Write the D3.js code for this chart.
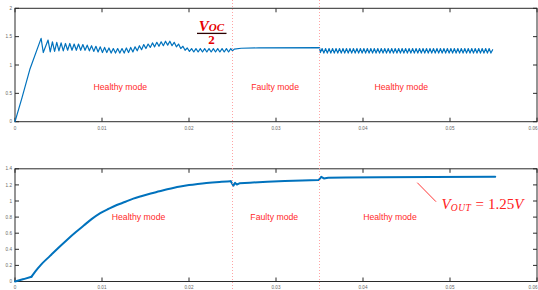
<!DOCTYPE html>
<html><head><meta charset="utf-8">
<script src="https://cdn.jsdelivr.net/npm/d3@7"></script>
<style>
html,body{margin:0;padding:0;background:#fff;overflow:hidden}
svg{display:block}
</style></head>
<body>
<script>
// ---------- data ----------
const xTicks = [0, 0.01, 0.02, 0.03, 0.04, 0.05, 0.06];
const xTickLabels = ["0", "0.01", "0.02", "0.03", "0.04", "0.05", "0.06"];
const topYTicks = [0, 0.5, 1, 1.5, 2];
const topYTickLabels = ["0", "0.5", "1", "1.5", "2"];
const botYTicks = [0, 0.2, 0.4, 0.6, 0.8, 1, 1.2, 1.4];
const botYTickLabels = ["0", "0.2", "0.4", "0.6", "0.8", "1", "1.2", "1.4"];
const faultTimes = [0.025, 0.035];
const modeLabels = ["Healthy mode", "Faulty mode", "Healthy mode"];
const topModeLabelT = [0.0121, 0.0299, 0.0444];
const botModeLabelT = [0.0142, 0.0298, 0.0431];

// capacitor voltage (top)
const topSeries = [
[0,0],[0.0008,0.42],[0.0017,0.92],[0.0030,1.47],[0.00325,1.22],
[0.0038,1.44],[0.00405,1.23],[0.0043,1.41],[0.00455,1.24],[0.0048,1.40],[0.00505,1.25],
[0.0053,1.39],[0.00555,1.25],[0.0058,1.38],[0.00605,1.26],[0.0063,1.38],[0.00655,1.26],
[0.0068,1.37],[0.00705,1.26],[0.0073,1.37],[0.00755,1.26],[0.0078,1.36],[0.00805,1.26],
[0.0083,1.35],[0.00855,1.25],[0.0088,1.34],[0.00905,1.24],[0.0093,1.33],[0.00955,1.23],
[0.0098,1.32],[0.01005,1.22],[0.0103,1.31],[0.01055,1.22],[0.0108,1.30],[0.01105,1.21],
[0.0113,1.29],[0.01155,1.21],[0.0118,1.29],[0.01205,1.21],[0.0123,1.29],[0.01255,1.21],
[0.0128,1.30],[0.01305,1.22],[0.0133,1.31],[0.01355,1.23],[0.0138,1.32],[0.01405,1.25],
[0.0143,1.34],[0.01455,1.27],[0.0148,1.36],[0.01505,1.29],[0.0153,1.37],[0.01555,1.31],
[0.0158,1.39],[0.01605,1.32],[0.0163,1.40],[0.01655,1.33],[0.0168,1.41],[0.01705,1.34],
[0.0173,1.42],[0.01755,1.35],[0.0178,1.42],[0.01805,1.34],[0.0183,1.40],[0.01855,1.32],
[0.0188,1.37],[0.01905,1.29],[0.0193,1.33],[0.01955,1.26],[0.0198,1.30],[0.02005,1.24],
[0.0203,1.29],[0.02055,1.23],[0.0208,1.29],[0.02105,1.23],[0.0213,1.29],[0.02155,1.23],
[0.0218,1.29],[0.02205,1.23],[0.0223,1.29],[0.02255,1.23],[0.0228,1.29],[0.02305,1.23],
[0.0233,1.29],[0.02355,1.23],[0.0238,1.29],[0.02405,1.23],[0.0243,1.29],[0.02455,1.23],
[0.0248,1.29],[0.0250,1.25],
[0.0252,1.28],[0.0260,1.295],[0.0280,1.302],[0.0350,1.305],[0.0351,1.22],
[0.0353,1.29],[0.0355,1.21],[0.0357,1.29],[0.0359,1.21],[0.0361,1.29],[0.0363,1.21],
[0.0365,1.29],[0.0367,1.21],[0.0369,1.29],[0.0371,1.21],[0.0373,1.29],[0.0375,1.21],
[0.0377,1.29],[0.0379,1.21],[0.0381,1.29],[0.0383,1.21],[0.0385,1.29],[0.0387,1.21],
[0.0389,1.29],[0.0391,1.21],[0.0393,1.29],[0.0395,1.21],[0.0397,1.29],[0.0399,1.21],
[0.0401,1.29],[0.0403,1.21],[0.0405,1.29],[0.0407,1.21],[0.0409,1.29],[0.0411,1.21],
[0.0413,1.29],[0.0415,1.21],[0.0417,1.29],[0.0419,1.21],[0.0421,1.29],[0.0423,1.21],
[0.0425,1.29],[0.0427,1.21],[0.0429,1.29],[0.0431,1.21],[0.0433,1.29],[0.0435,1.21],
[0.0437,1.29],[0.0439,1.21],[0.0441,1.29],[0.0443,1.21],[0.0445,1.29],[0.0447,1.21],
[0.0449,1.29],[0.0451,1.21],[0.0453,1.29],[0.0455,1.21],[0.0457,1.29],[0.0459,1.21],
[0.0461,1.29],[0.0463,1.21],[0.0465,1.29],[0.0467,1.21],[0.0469,1.29],[0.0471,1.21],
[0.0473,1.29],[0.0475,1.21],[0.0477,1.29],[0.0479,1.21],[0.0481,1.29],[0.0483,1.21],
[0.0485,1.29],[0.0487,1.21],[0.0489,1.29],[0.0491,1.21],[0.0493,1.29],[0.0495,1.21],
[0.0497,1.29],[0.0499,1.21],[0.0501,1.29],[0.0503,1.21],[0.0505,1.29],[0.0507,1.21],
[0.0509,1.29],[0.0511,1.21],[0.0513,1.29],[0.0515,1.21],[0.0517,1.29],[0.0519,1.21],
[0.0521,1.29],[0.0523,1.21],[0.0525,1.29],[0.0527,1.21],[0.0529,1.29],[0.0531,1.21],
[0.0533,1.29],[0.0535,1.21],[0.0537,1.29],[0.0539,1.21],[0.0541,1.29],[0.0543,1.21],
[0.0545,1.29],[0.0547,1.21],[0.0549,1.27]
];

// output voltage (bottom) - start, smooth rise, fault transient and tail
const botSeriesA = [
[0,0],[0.0010,0.03],[0.0019,0.06]
];
const botSeriesB = [
[0.0019,0.06],[0.0023,0.12],[0.0030,0.21],[0.0040,0.315],
[0.0050,0.42],[0.0060,0.52],[0.0070,0.615],[0.0079,0.695],[0.0088,0.775],[0.0098,0.85],
[0.0108,0.905],[0.0117,0.95],[0.0127,0.99],[0.0136,1.03],[0.0146,1.063],[0.0156,1.093],
[0.0166,1.12],[0.0175,1.145],[0.0183,1.165],[0.0190,1.18],[0.0200,1.198],[0.0210,1.212],
[0.0220,1.224],[0.0235,1.237],[0.0248,1.245]
];
const botSeriesC = [
[0.0248,1.245],[0.0251,1.19],[0.0253,1.225],[0.0255,1.205],
[0.0258,1.22],[0.0270,1.228],[0.0290,1.238],[0.0310,1.248],[0.0330,1.255],[0.0349,1.26],
[0.0352,1.30],[0.0355,1.28],[0.0360,1.29],[0.0380,1.293],[0.0420,1.296],[0.0480,1.298],
[0.0552,1.30]
];

// ---------- layout ----------
const W = 538, H = 290;
const svg = d3.select("body").append("svg").attr("width", W).attr("height", H);
const x = d3.scaleLinear().domain([0, 0.06]).range([15, 537]);
const yTop = d3.scaleLinear().domain([0, 2]).range([121.7, 8.3]);
const yBot = d3.scaleLinear().domain([0, 1.4]).range([281.5, 168.8]);

const axisColor = "#2b2b2b";
const labelColor = "#666";
const redText = "#ff2a2a";
const blue = "#0072BD";

function drawPanel(y, yTicks, yLabels, seriesList, lineWidth, labelTs, labelY, labelBase) {
  const g = svg.append("g");
  const [y0, y1] = y.range();
  const x0 = x.range()[0], x1 = x.range()[1];
  g.append("rect").attr("x", x0).attr("y", y1).attr("width", x1 - x0).attr("height", y0 - y1)
    .attr("fill", "none").attr("stroke", axisColor).attr("stroke-width", 1);
  const tl = 4;
  g.selectAll(".xt").data(xTicks).enter().append("line")
    .attr("x1", d => x(d)).attr("x2", d => x(d)).attr("y1", y0).attr("y2", y0 - tl)
    .attr("stroke", axisColor);
  g.selectAll(".xtt").data(xTicks).enter().append("line")
    .attr("x1", d => x(d)).attr("x2", d => x(d)).attr("y1", y1).attr("y2", y1 + tl)
    .attr("stroke", axisColor);
  g.selectAll(".xl").data(xTicks).enter().append("text")
    .attr("x", (d, i) => i === xTicks.length - 1 ? W - 0.5 : x(d)).attr("y", labelBase)
    .attr("text-anchor", (d, i) => i === xTicks.length - 1 ? "end" : "middle")
    .attr("font-family", "Liberation Sans, Arial, sans-serif").attr("font-size", 4.6)
    .attr("fill", labelColor).text((d, i) => xTickLabels[i]);
  g.selectAll(".yt").data(yTicks).enter().append("line")
    .attr("x1", x0).attr("x2", x0 + tl).attr("y1", d => y(d)).attr("y2", d => y(d))
    .attr("stroke", axisColor);
  g.selectAll(".ytr").data(yTicks).enter().append("line")
    .attr("x1", x1).attr("x2", x1 - tl).attr("y1", d => y(d)).attr("y2", d => y(d))
    .attr("stroke", axisColor);
  g.selectAll(".yl").data(yTicks).enter().append("text")
    .attr("x", x0 - 3).attr("y", d => y(d) + 1.6).attr("text-anchor", "end")
    .attr("font-family", "Liberation Sans, Arial, sans-serif").attr("font-size", 4.6)
    .attr("fill", labelColor).text((d, i) => yLabels[i]);
  seriesList.forEach(s => {
    const line = d3.line().x(d => x(d[0])).y(d => y(d[1])).curve(s.curve);
    g.append("path").datum(s.data).attr("d", line).attr("fill", "none")
      .attr("stroke", blue).attr("stroke-width", lineWidth)
      .attr("stroke-linejoin", "round").attr("stroke-linecap", "round");
  });
  g.selectAll(".ml").data(labelTs).enter().append("text")
    .attr("x", d => x(d)).attr("y", labelY).attr("text-anchor", "middle")
    .attr("font-family", "Liberation Sans, Arial, sans-serif").attr("font-size", 8.7)
    .attr("fill", redText).text((d, i) => modeLabels[i]);
  return g;
}

drawPanel(yTop, topYTicks, topYTickLabels,
  [{data: topSeries, curve: d3.curveLinear}], 1.2, topModeLabelT, 90.3, 129.5);
drawPanel(yBot, botYTicks, botYTickLabels,
  [{data: botSeriesA, curve: d3.curveLinear},
   {data: botSeriesB, curve: d3.curveMonotoneX},
   {data: botSeriesC, curve: d3.curveLinear}], 2, botModeLabelT, 219.5, 289.3);

// fault boundaries (dotted, full height)
svg.selectAll(".fl").data(faultTimes).enter().append("line")
  .attr("x1", d => x(d)).attr("x2", d => x(d)).attr("y1", 0).attr("y2", H)
  .attr("stroke", "#ff9a9a").attr("stroke-width", 0.9).attr("stroke-dasharray", "1,2");

// V_OC / 2 annotation
const serif = "Liberation Serif, Times New Roman, serif";
const frac = svg.append("g");
const fx = 211.5;
const num = frac.append("text").attr("x", fx).attr("y", 30.5).attr("text-anchor", "middle")
  .attr("font-family", serif).attr("font-style", "italic").attr("font-weight", "bold")
  .attr("fill", "#e60000");
num.append("tspan").attr("font-size", 15).text("V");
num.append("tspan").attr("font-size", 11).attr("dy", 0.5).text("OC");
frac.append("line").attr("x1", 197).attr("x2", 226.5).attr("y1", 33.4).attr("y2", 33.4)
  .attr("stroke", "#2a0000").attr("stroke-width", 1.3);
frac.append("text").attr("x", fx).attr("y", 44).attr("text-anchor", "middle")
  .attr("font-family", serif).attr("font-weight", "bold").attr("font-size", 13)
  .attr("fill", "#e60000").text("2");

// V_OUT annotation
svg.append("line").attr("x1", 417.3).attr("y1", 182.7).attr("x2", 436).attr("y2", 201.7)
  .attr("stroke", "#ff2020").attr("stroke-width", 0.9);
const vo = svg.append("text").attr("x", 441.5).attr("y", 208.8)
  .attr("font-family", serif).attr("font-style", "italic").attr("fill", "#ff2020");
vo.append("tspan").attr("font-size", 15).text("V");
vo.append("tspan").attr("font-size", 9.5).attr("dy", 2).attr("letter-spacing", 0.6).text("OUT");
vo.append("tspan").attr("font-size", 15).attr("dy", -2).attr("dx", 4).attr("font-style", "normal").text("=");
vo.append("tspan").attr("font-size", 15).attr("dx", 4).attr("font-style", "normal").text("1.25");
vo.append("tspan").attr("font-size", 15).text("V");
</script>
</body></html>
